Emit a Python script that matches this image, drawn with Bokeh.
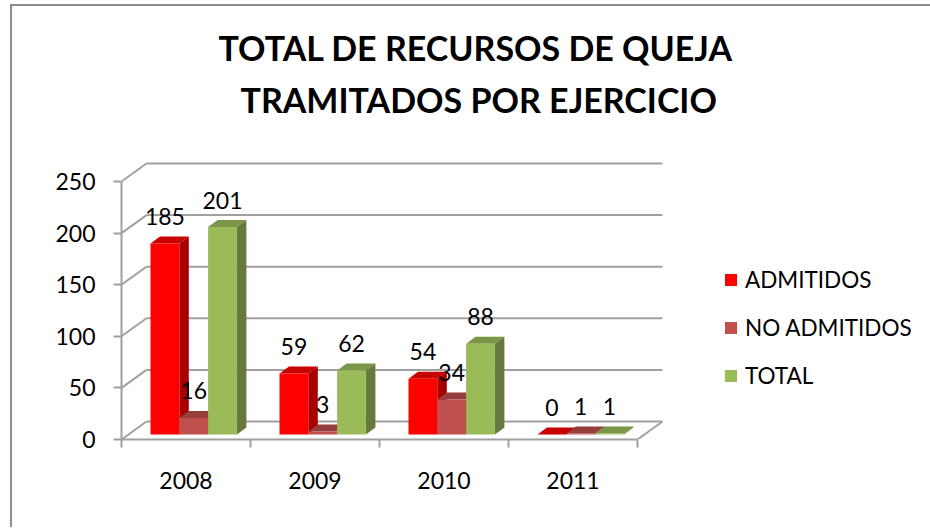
from bokeh.embed import file_html
from bokeh.resources import INLINE
from bokeh.plotting import figure
from bokeh.models import (ColumnDataSource, FixedTicker, Legend, LegendItem, Range1d, Title)
from bokeh.core.properties import value

TITLE_1 = "TOTAL DE RECURSOS DE QUEJA"
TITLE_2 = "TRAMITADOS POR EJERCICIO"
YEARS = ["2008", "2009", "2010", "2011"]
SERIES = ["ADMITIDOS", "NO ADMITIDOS", "TOTAL"]
ADMITIDOS = [185, 59, 54, 0]
NO_ADMITIDOS = [16, 3, 34, 1]
TOTAL = [201, 62, 88, 1]
Y_TICKS = [0, 50, 100, 150, 200, 250]

FRONT = ["#FF0000", "#C0504D", "#9BBB59"]
TOP = ["#C80000", "#963E3C", "#7B9648"]
SIDE = ["#A80000", "#8A3836", "#67793F"]
GRID = "#A0A0A0"
FONT = "Lato"

OX, OY = 12, 6            # page position of the canvas
AX_L, AX_B = 121, 439     # page position of the plot origin
PX_CAT, PX_VAL = 129.0, 1.032
FW, FH = 594, 314
WALL_DX, WALL_DY = 25 / PX_CAT, 18 / PX_VAL
BAR_DX, BAR_DY = 9.5 / PX_CAT, 7 / PX_VAL
BAR_W = 28.8 / PX_CAT
BAR_X0 = 29 / PX_CAT
BASE = 5 / PX_VAL

p = figure(width=930 - OX, height=529 - OY, frame_width=FW, frame_height=FH,
           x_range=Range1d(0, FW / PX_CAT), y_range=Range1d(0, FH / PX_VAL),
           output_backend="svg", toolbar_location=None,
           min_border_left=AX_L - OX, min_border_top=AX_B - FH - OY,
           min_border_bottom=529 - AX_B - 2, min_border_right=930 - AX_L - FW,
           margin=(4, 0, 0, 10),
           styles={"border-left": "2px solid #8C8C8C", "border-top": "2px solid #8C8C8C"})
p.grid.visible = False
p.outline_line_color = None
p.background_fill_color = "white"

# chart walls
n = len(YEARS)
p.segment([0] * 6, Y_TICKS, [WALL_DX] * 6, [v + WALL_DY for v in Y_TICKS], line_color=GRID, line_width=2)
p.segment([WALL_DX] * 6, [v + WALL_DY for v in Y_TICKS], [n + WALL_DX] * 6, [v + WALL_DY for v in Y_TICKS],
          line_color=GRID, line_width=2)
p.segment([n], [0], [n + WALL_DX], [WALL_DY], line_color=GRID, line_width=2)

# 3-D bars
legend_items = []
for k, vals in enumerate([ADMITIDOS, NO_ADMITIDOS, TOTAL]):
    x0 = [i + BAR_X0 + k * BAR_W for i in range(n)]
    x1 = [x + BAR_W for x in x0]
    y0 = [BASE] * n
    y1 = [v + BASE for v in vals]
    p.patches([[a, b, b + BAR_DX, a + BAR_DX] for a, b in zip(x0, x1)],
              [[t, t, t + BAR_DY, t + BAR_DY] for t in y1], fill_color=TOP[k], line_color=None)
    p.patches([[b, b + BAR_DX, b + BAR_DX, b] for b in x1],
              [[BASE, BASE + BAR_DY, t + BAR_DY, t] for t in y1], fill_color=SIDE[k], line_color=None)
    r = p.quad(left=x0, right=x1, bottom=y0, top=y1, fill_color=FRONT[k], line_color=None)
    legend_items.append(LegendItem(label=SERIES[k], renderers=[r]))

# data labels
for k, vals in enumerate([ADMITIDOS, NO_ADMITIDOS, TOTAL]):
    src = ColumnDataSource(dict(
        x=[i + BAR_X0 + (k + 0.5) * BAR_W for i in range(n)],
        y=[v + BASE for v in vals],
        t=[str(v) for v in vals]))
    p.text("x", "y", text="t", source=src, text_font=value(FONT), text_font_size="23px", text_color="black",
           text_align="center", text_baseline="middle", y_offset=-27)

# axes
ax = p.xaxis[0]
ax.bounds = (0, n)
ax.ticker = FixedTicker(ticks=[i + 0.5 for i in range(n)], minor_ticks=list(range(n + 1)))
ax.major_label_overrides = {i + 0.5: y for i, y in enumerate(YEARS)}
ax.major_tick_line_color = None
ax.minor_tick_line_color = GRID
ax.minor_tick_line_width = 2
ax.minor_tick_out = 8
ax.minor_tick_in = 0
ax.axis_line_color = GRID
ax.axis_line_width = 2
ax.major_label_standoff = 24
ax.major_label_text_font = FONT
ax.major_label_text_font_size = "23px"
ax.major_label_text_color = "black"

ay = p.yaxis[0]
ay.bounds = (0, 250)
ay.ticker = FixedTicker(ticks=Y_TICKS)
ay.major_tick_line_color = GRID
ay.major_tick_line_width = 2
ay.major_tick_out = 8
ay.major_tick_in = 0
ay.minor_tick_line_color = None
ay.axis_line_color = GRID
ay.axis_line_width = 2
ay.major_label_standoff = 18
ay.major_label_text_font = FONT
ay.major_label_text_font_size = "23px"
ay.major_label_text_color = "black"

legend = Legend(items=legend_items, glyph_width=15, glyph_height=15, label_standoff=7, spacing=21,
                label_text_font=FONT, label_text_font_size="22.5px", label_text_color="black",
                border_line_color=None, background_fill_alpha=0, margin=0, padding=10,
                label_height=24, location=(8, 50))
p.add_layout(legend, "right")

p.title = Title(text=TITLE_1, text_font=FONT, text_font_size="34px", text_font_style="bold",
                text_color="black", align="left", offset=97, standoff=5)
p.add_layout(Title(text=TITLE_2, text_font=FONT, text_font_size="34px", text_font_style="bold",
                   text_color="black", align="left", offset=119, standoff=12), "above")

open("out.html", "w").write(file_html(p, INLINE))
